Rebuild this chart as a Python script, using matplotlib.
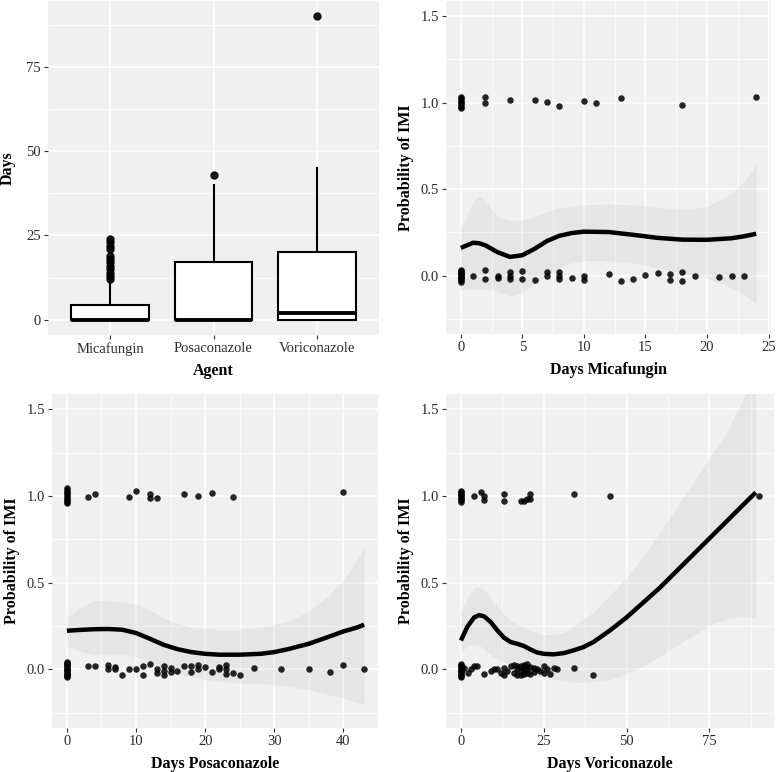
import numpy as np
import matplotlib
matplotlib.use("Agg")
import matplotlib.pyplot as plt
from matplotlib.ticker import MultipleLocator

plt.rcParams["font.family"] = ["Liberation Serif", "DejaVu Serif"]

# ---- panel 1: boxplot of days per agent ----
agents = ["Micafungin", "Posaconazole", "Voriconazole"]
box_q1 = [0, 0, 0]
box_med = [0, 0, 2]
box_q3 = [4.5, 17, 20]
box_whislo = [0, 0, 0]
box_whishi = [11, 40, 45]
box_fliers = [
    [12, 13, 14, 15, 16, 17, 18, 19, 21, 22, 23, 24],
    [43],
    [90],
]

# ---- panel 2: micafungin ----
mica_x0 = [0, 0, 0, 0, 0, 0, 0, 0, 0, 0, 0, 0, 1, 2, 2, 3, 3, 4, 4, 4, 5, 5, 6, 7, 7,
           8, 8, 8, 9, 10, 10, 12, 13, 14, 15, 16, 17, 17, 18, 18, 19, 21, 22, 23]
mica_y0 = [0.035, 0.028, 0.021, 0.014, 0.007, 0.0, -0.007, -0.014, -0.021, -0.028, -0.035, 0.01,
           0.0, 0.03, -0.02, 0.0, -0.015, 0.02, 0.0, -0.02, 0.025, -0.017, -0.023, 0.02, 0.0,
           0.02, 0.0, -0.017, -0.013, 0.0, -0.027, 0.012, -0.03, -0.017, 0.002, 0.015,
           0.012, -0.023, 0.02, -0.033, 0.0, -0.008, 0.0, 0.0]
mica_x1 = [0, 0, 0, 0, 0, 0, 0, 0, 2, 2, 4, 6, 7, 8, 10, 11, 13, 18, 24]
mica_y1 = [1.035, 1.025, 1.015, 1.005, 0.995, 0.985, 0.975, 0.967, 1.03, 1.0, 1.015,
           1.015, 1.006, 0.98, 1.01, 1.0, 1.025, 0.985, 1.03]
mica_fx = [0, 1, 1.5, 2, 3, 4, 5, 6, 7, 8, 9, 10, 12, 14, 16, 18, 20, 22, 23, 24]
mica_fit = [0.16, 0.19, 0.187, 0.175, 0.135, 0.108, 0.118, 0.155, 0.2, 0.23, 0.246, 0.254,
            0.252, 0.236, 0.218, 0.208, 0.207, 0.216, 0.227, 0.242]
mica_hi = [0.27, 0.43, 0.46, 0.43, 0.34, 0.32, 0.32, 0.34, 0.37, 0.39, 0.40, 0.41,
           0.413, 0.41, 0.396, 0.38, 0.40, 0.477, 0.544, 0.645]
mica_lo = [-0.08, -0.08, -0.078, -0.08, -0.09, -0.12, -0.10, -0.05, 0.006, 0.044, 0.073, 0.087,
           0.087, 0.073, 0.044, 0.015, -0.013, -0.07, -0.11, -0.167]

# ---- panel 3: posaconazole ----
posa_x0 = [0, 0, 0, 0, 0, 0, 0, 0, 0, 0, 0, 0, 0, 0, 3, 4, 6, 6, 7, 7, 8, 9, 10, 11, 11,
           12, 13, 13, 14, 14, 14, 15, 15, 16, 17, 18, 18, 19, 19, 20, 21, 22, 22,
           23, 23, 23, 24, 25, 27, 31, 35, 38, 40, 43]
posa_y0 = [0.045, 0.038, 0.031, 0.024, 0.017, 0.01, 0.003, -0.004, -0.011, -0.018, -0.025,
           -0.032, -0.039, -0.044, 0.017, 0.02, 0.027, 0.0, 0.012, 0.0, -0.03, 0.004, 0.0,
           0.017, -0.03, 0.03, 0.0, -0.02, 0.02, -0.01, -0.033, 0.008, -0.017, -0.01, 0.017,
           0.02, -0.015, 0.025, 0.002, 0.012, -0.012, 0.013, 0.0, 0.025, 0.0, -0.025, -0.02,
           -0.03, 0.01, 0.0, 0.0, -0.017, 0.023, 0.0]
posa_x1 = [0, 0, 0, 0, 0, 0, 0, 0, 0, 0, 3, 4, 9, 10, 12, 12, 13, 17, 19, 21, 24, 40]
posa_y1 = [1.045, 1.035, 1.025, 1.015, 1.005, 0.995, 0.985, 0.975, 0.965, 0.958, 0.996,
           1.013, 0.996, 1.027, 1.013, 0.987, 0.99, 1.012, 1.0, 1.015, 0.996, 1.025]
posa_fx = [0, 2, 4, 6, 8, 10, 12, 14, 16, 18, 20, 22, 25, 28, 30, 32, 35, 38, 40, 42, 43]
posa_fit = [0.223, 0.228, 0.232, 0.233, 0.229, 0.21, 0.177, 0.142, 0.117, 0.1, 0.09, 0.085,
            0.085, 0.09, 0.1, 0.117, 0.148, 0.19, 0.219, 0.242, 0.258]
posa_hi = [0.30, 0.36, 0.396, 0.40, 0.39, 0.377, 0.344, 0.296, 0.263, 0.244, 0.235, 0.229,
           0.229, 0.242, 0.258, 0.28, 0.335, 0.43, 0.517, 0.633, 0.71]
posa_lo = [0.133, 0.104, 0.085, 0.085, 0.085, 0.075, 0.046, 0.008, -0.021, -0.044, -0.06,
           -0.069, -0.079, -0.083, -0.088, -0.098, -0.117, -0.146, -0.165, -0.19, -0.204]

# ---- panel 4: voriconazole ----
vori_x0 = [0, 0, 0, 0, 0, 0, 0, 0, 0, 0, 0, 0, 1, 2, 3, 4, 5, 7, 9, 10, 11, 12, 13, 13,
           14, 15, 16, 16, 17, 17, 17, 18, 18, 18, 19, 19, 19, 20, 20, 20, 21, 21,
           22, 22, 23, 24, 25, 25, 26, 27, 28, 29, 34, 40]
vori_y0 = [0.033, 0.026, 0.019, 0.012, 0.005, -0.002, -0.009, -0.016, -0.023, -0.03, -0.037,
           -0.042, 0.01, -0.02, 0.0, 0.017, 0.018, -0.025, -0.01, 0.0, 0.005, -0.02, 0.01,
           -0.03, -0.01, 0.02, 0.025, -0.02, 0.02, 0.0, -0.03, 0.02, -0.01, -0.03, 0.025,
           0.0, -0.025, 0.03, 0.005, -0.02, 0.015, -0.025, 0.01, -0.015, 0.0, -0.01, 0.02,
           -0.02, 0.005, -0.025, 0.01, 0.005, 0.01, -0.032]
vori_x1 = [0, 0, 0, 0, 0, 0, 0, 0, 0, 4, 6, 7, 7, 13, 13, 18, 19, 20, 21, 21, 34, 45, 90]
vori_y1 = [1.03, 1.022, 1.014, 1.006, 0.998, 0.99, 0.982, 0.974, 0.966, 1.0, 1.02, 1.0,
           0.975, 1.013, 0.971, 0.971, 0.971, 0.98, 1.01, 0.98, 1.01, 1.0, 1.0]
vori_fx = [0, 2, 4, 5.5, 7, 9, 11, 13, 15, 17, 19, 21, 23, 25, 28, 31, 34, 37, 40, 45,
           50, 55, 60, 65, 70, 75, 80, 85, 89]
vori_fit = [0.167, 0.248, 0.30, 0.313, 0.306, 0.273, 0.225, 0.183, 0.158, 0.148, 0.135,
            0.115, 0.098, 0.09, 0.087, 0.094, 0.11, 0.129, 0.158, 0.225, 0.30, 0.385, 0.47,
            0.565, 0.66, 0.755, 0.85, 0.945, 1.02]
vori_hi = [0.33, 0.42, 0.47, 0.475, 0.46, 0.41, 0.36, 0.32, 0.28, 0.26, 0.245, 0.225, 0.21,
           0.2, 0.2, 0.215, 0.25, 0.29, 0.33, 0.43, 0.53, 0.65, 0.79, 0.93, 1.075, 1.22,
           1.36, 1.55, 1.75]
vori_lo = [0.10, 0.135, 0.145, 0.14, 0.12, 0.085, 0.06, 0.045, 0.025, 0.01, -0.01, -0.025,
           -0.035, -0.045, -0.058, -0.068, -0.074, -0.075, -0.072, -0.058, -0.025, 0.02,
           0.075, 0.135, 0.195, 0.255, 0.29, 0.305, 0.295]

BG = "#f0f0f0"
TXT = "#2b2b2b"


def style_axes(ax):
    ax.set_facecolor(BG)
    for s in ax.spines.values():
        s.set_visible(False)
    ax.grid(which="major", color="white", linewidth=1.1)
    ax.grid(which="minor", color="white", linewidth=0.55)
    ax.set_axisbelow(True)
    ax.tick_params(which="major", length=3, width=0.8, color="#333333",
                   labelsize=10.5, labelcolor=TXT, pad=2)
    ax.tick_params(which="minor", length=0)


def prob_panel(ax, x0, y0, x1, y1, fx, fit, lo, hi, xlim, major, xlabel):
    style_axes(ax)
    ax.fill_between(fx, lo, hi, color="#999999", alpha=0.12, linewidth=0)
    ax.scatter(x0, y0, s=22, color="black", alpha=0.85, linewidths=0, zorder=3)
    ax.scatter(x1, y1, s=22, color="black", alpha=0.85, linewidths=0, zorder=3)
    ax.plot(fx, fit, color="black", linewidth=3.2, solid_capstyle="butt", zorder=4)
    ax.set_xlim(*xlim)
    ax.set_ylim(-0.3375, 1.5875)
    ax.xaxis.set_major_locator(MultipleLocator(major))
    ax.xaxis.set_minor_locator(MultipleLocator(major / 2))
    ax.yaxis.set_major_locator(MultipleLocator(0.5))
    ax.yaxis.set_minor_locator(MultipleLocator(0.25))
    ax.set_yticks([0, 0.5, 1.0, 1.5])
    ax.set_yticklabels(["0.0", "0.5", "1.0", "1.5"])
    ax.set_xlabel(xlabel, fontsize=11.5, fontweight="bold", color="black")
    ax.set_ylabel("Probability of IMI", fontsize=11.5, fontweight="bold", color="black")
    ax.xaxis.set_label_coords(0.5, -0.107)
    ax.xaxis.label.set_va("center")
    ax.yaxis.set_label_coords(-0.123, 0.5)
    ax.yaxis.label.set_va("center")


W, H = 777, 772
fig = plt.figure(figsize=(W / 100, H / 100), dpi=100)


def px_axes(left, right, top, bottom):
    return fig.add_axes([left / W, 1 - bottom / H, (right - left) / W, (bottom - top) / H])


ax1 = px_axes(48, 379, 1, 335)
ax2 = px_axes(446, 771, 1, 334)
ax3 = px_axes(52, 379, 394, 728)
ax4 = px_axes(446, 774, 394, 728)

# boxplot
style_axes(ax1)
stats = []
for i, name in enumerate(agents):
    stats.append({
        "label": name, "q1": box_q1[i], "med": box_med[i], "q3": box_q3[i],
        "whislo": box_whislo[i], "whishi": box_whishi[i], "fliers": box_fliers[i],
    })
ax1.bxp(stats, positions=[1, 2, 3], widths=0.75, showcaps=False, patch_artist=True,
        boxprops=dict(facecolor="white", edgecolor="black", linewidth=1.5),
        medianprops=dict(color="black", linewidth=2.8, solid_capstyle="butt"),
        whiskerprops=dict(color="black", linewidth=1.5),
        flierprops=dict(marker="o", markerfacecolor="black", markeredgecolor="black",
                        markersize=5, alpha=0.9))
ax1.set_xlim(0.4, 3.6)
ax1.set_ylim(-4.5, 94.5)
ax1.yaxis.set_major_locator(MultipleLocator(25))
ax1.yaxis.set_minor_locator(MultipleLocator(12.5))
ax1.set_xticks([1, 2, 3])
ax1.set_xticklabels(agents)
ax1.set_xlabel("Agent", fontsize=11.5, fontweight="bold", color="black")
ax1.set_ylabel("Days", fontsize=11.5, fontweight="bold", color="black")
ax1.xaxis.set_label_coords(0.5, -0.107)
ax1.xaxis.label.set_va("center")
ax1.yaxis.set_label_coords(-0.121, 0.5)
ax1.yaxis.label.set_va("center")

prob_panel(ax2, mica_x0, mica_y0, mica_x1, mica_y1, mica_fx, mica_fit, mica_lo, mica_hi,
           (-1.2, 25.2), 5, "Days Micafungin")
prob_panel(ax3, posa_x0, posa_y0, posa_x1, posa_y1, posa_fx, posa_fit, posa_lo, posa_hi,
           (-2.15, 45.15), 10, "Days Posaconazole")
prob_panel(ax4, vori_x0, vori_y0, vori_x1, vori_y1, vori_fx, vori_fit, vori_lo, vori_hi,
           (-4.5, 94.5), 25, "Days Voriconazole")

fig.savefig("out.png", dpi=100, facecolor="white")
